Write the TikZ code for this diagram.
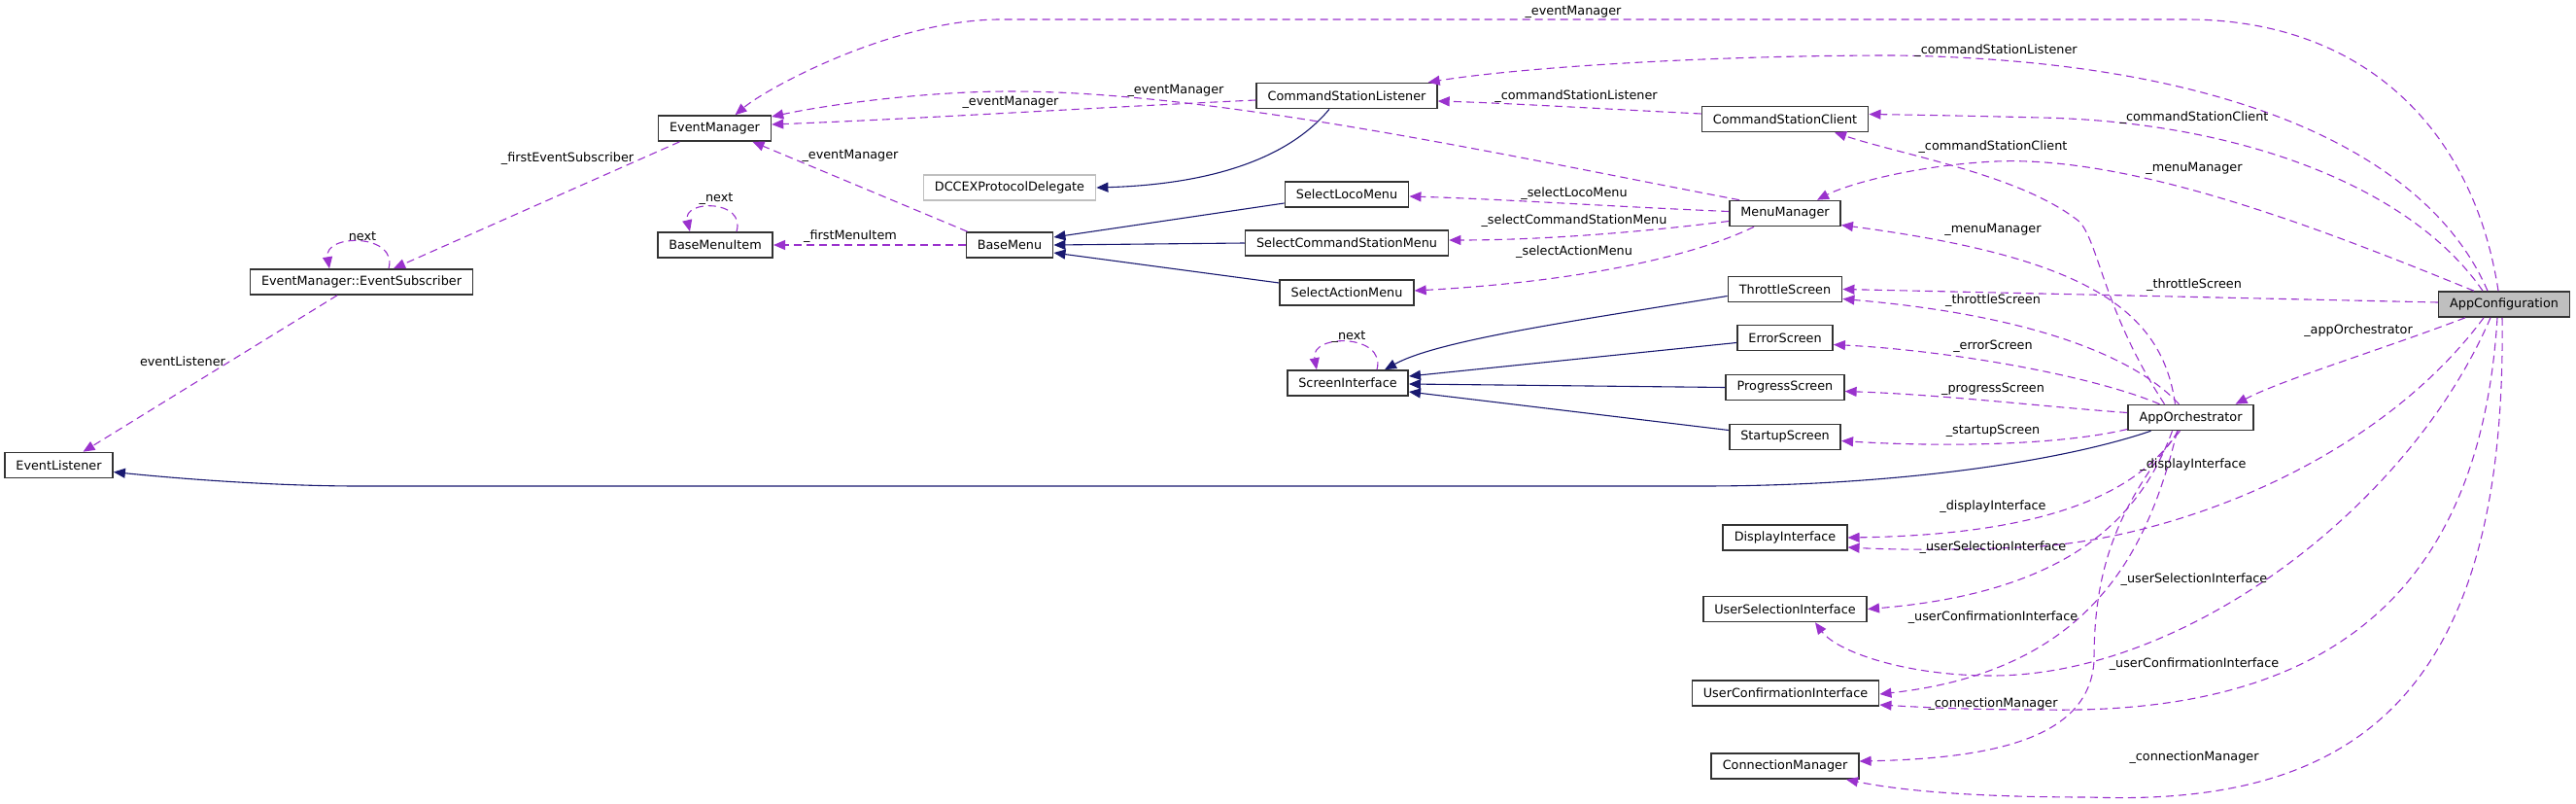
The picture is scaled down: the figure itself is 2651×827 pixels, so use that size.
\documentclass[tikz,border=0pt]{standalone}
\usepackage{fontspec}
\setmainfont{DejaVu Sans}
\usetikzlibrary{arrows.meta}
\definecolor{usecol}{HTML}{9A32CD}
\definecolor{inhcol}{HTML}{191970}
\tikzset{
  % Class boxes
  cls/.style={rectangle, draw=black!80, line width=1.6pt, fill=white, minimum height=26pt, inner xsep=11.5pt, inner ysep=0pt, font=\fontsize{12.8}{15}\selectfont},
  clsext/.style={cls, draw=black!25},
  clsmain/.style={cls, fill=black!25},
  % Connectors
  uses/.style={draw=usecol, line width=1.1pt, dash pattern=on 8pt off 5pt, -{Triangle[length=12pt, width=10pt]}},
  inherits/.style={draw=inhcol, line width=1.1pt, -{Triangle[length=12pt, width=10pt]}},
  lbl/.style={font=\fontsize{12.8}{15}\selectfont, inner sep=0pt},
}

\begin{document}
\begin{tikzpicture}[x=1pt, y=-1pt]
    \useasboundingbox (0,0) rectangle (2651,827);
    % Classes
    \node[cls] (evlis) at (60.5,478.5) {EventListener};
    \node[cls] (evsub) at (372,290) {EventManager::EventSubscriber};
    \node[cls] (evmgr) at (735.5,132) {EventManager};
    \node[cls] (menuitem) at (736,252) {BaseMenuItem};
    \node[clsext] (dccex) at (1039,193) {DCCEXProtocolDelegate};
    \node[cls] (basemenu) at (1039,252) {BaseMenu};
    \node[cls] (cslis) at (1386,98.5) {CommandStationListener};
    \node[cls] (loco) at (1386,200) {SelectLocoMenu};
    \node[cls] (csmenu) at (1386,250) {SelectCommandStationMenu};
    \node[cls] (actmenu) at (1386,301) {SelectActionMenu};
    \node[cls] (scrif) at (1387,394) {ScreenInterface};
    \node[cls] (csclient) at (1837,122.5) {CommandStationClient};
    \node[cls] (menumgr) at (1837,219.5) {MenuManager};
    \node[cls] (throttle) at (1837,297.5) {ThrottleScreen};
    \node[cls] (errscr) at (1837,347.5) {ErrorScreen};
    \node[cls] (progscr) at (1837,398.5) {ProgressScreen};
    \node[cls] (startscr) at (1837,449.5) {StartupScreen};
    \node[cls] (dispif) at (1837,553) {DisplayInterface};
    \node[cls] (selif) at (1837,626.5) {UserSelectionInterface};
    \node[cls] (confif) at (1837.5,713) {UserConfirmationInterface};
    \node[cls] (connmgr) at (1837,788) {ConnectionManager};
    \node[cls] (orch) at (2254.5,429.5) {AppOrchestrator};
    \node[clsmain] (app) at (2577,313) {AppConfiguration};
    % Inheritance
    \draw[inherits] ([xshift=-18pt]cslis.south) .. controls (1320,170) and (1230,190) .. (dccex.east);
    \draw[inherits] ([yshift=-9pt]loco.west) -- ([yshift=8pt]basemenu.east);
    \draw[inherits] (csmenu.west) -- (basemenu.east);
    \draw[inherits] ([yshift=10pt]actmenu.west) -- ([yshift=-8pt]basemenu.east);
    \draw[inherits] ([yshift=-7pt]throttle.west) .. controls (1620,330) and (1480,350) .. ([xshift=38pt]scrif.north);
    \draw[inherits] ([yshift=-5pt]errscr.west) -- ([yshift=7pt]scrif.east);
    \draw[inherits] (progscr.west) -- ([yshift=-1pt]scrif.east);
    \draw[inherits] ([yshift=7pt]startscr.west) -- ([yshift=-9pt]scrif.east);
    \draw[inherits] ([xshift=-41pt]orch.south) .. controls (2120,475) and (1950,500) .. (1750,500) -- (370,500) .. controls (280,500) and (180,492) .. ([yshift=-7pt]evlis.east);
    % Members of the left part
    \draw[uses] ([xshift=-36pt]evmgr.south) -- ([xshift=33pt]evsub.north);
    \draw[uses] ([xshift=28pt]evsub.north) .. controls (410,240) and (333,240) .. ([xshift=-33pt]evsub.north);
    \draw[uses] ([xshift=-25pt]evsub.south) -- ([xshift=25pt]evlis.north);
    \draw[uses] ([xshift=22pt]menuitem.north) .. controls (768,205) and (702,205) .. ([xshift=-26pt]menuitem.north);
    \draw[uses] (basemenu.west) -- (menuitem.east);
    \draw[uses] ([xshift=2pt]basemenu.north west) -- ([xshift=39pt]evmgr.south);
    \draw[uses] ([yshift=-4.5pt]cslis.west) .. controls (1100,112) and (950,122) .. ([yshift=4pt]evmgr.east);
    \draw[uses] ([xshift=11pt]menumgr.north west) .. controls (1550,160) and (1250,94) .. (1040,94) .. controls (950,94) and (850,108) .. ([yshift=12pt]evmgr.east);
    \draw[uses] ([xshift=30pt]scrif.north) .. controls (1427,343) and (1348,343) .. ([xshift=-32pt]scrif.north);
    \draw[uses] ([yshift=5.5pt]csclient.west) .. controls (1650,112) and (1550,106) .. ([yshift=-5.5pt]cslis.east);
    \draw[uses] ([yshift=2pt]menumgr.west) .. controls (1650,212) and (1550,205) .. ([yshift=-2pt]loco.east);
    \draw[uses] ([yshift=-8pt]menumgr.west) .. controls (1680,240) and (1580,247) .. ([yshift=3pt]csmenu.east);
    \draw[uses] ([xshift=-32pt]menumgr.south) .. controls (1740,265) and (1620,290) .. ([yshift=2pt]actmenu.east);
    % Members of AppConfiguration
    \draw[uses] ([xshift=-6pt]app.north) .. controls (2545,130) and (2430,20) .. (2250,20) -- (1030,20) .. controls (920,20) and (790,90) .. ([xshift=21pt]evmgr.north);
    \draw[uses] ([xshift=-17pt]app.north) .. controls (2500,160) and (2300,62) .. (1950,57) .. controls (1750,57) and (1560,70) .. ([xshift=-10pt]cslis.north east);
    \draw[uses] ([xshift=-22pt]app.north) .. controls (2480,190) and (2300,125) .. (2100,121) .. controls (2020,119) and (1960,118) .. ([yshift=5pt]csclient.east);
    \draw[uses] ([xshift=-31pt]app.north) .. controls (2400,240) and (2200,160) .. (2054,166) .. controls (1970,170) and (1900,190) .. ([xshift=33pt]menumgr.north);
    \draw[uses] ([yshift=2pt]app.west) -- (throttle.east);
    \draw[uses] ([xshift=-40pt]app.south) .. controls (2450,360) and (2350,390) .. ([xshift=46pt]orch.north);
    \draw[uses] ([xshift=-21pt]app.south) .. controls (2450,470) and (2250,550) .. (2100,562) .. controls (2000,567) and (1940,565) .. ([yshift=-10pt]dispif.east);
    \draw[uses] ([xshift=-14pt]app.south) .. controls (2480,520) and (2250,695) .. (2050,695) .. controls (1960,695) and (1890,670) .. ([xshift=31pt]selif.south);
    \draw[uses] ([xshift=-7pt]app.south) .. controls (2550,650) and (2350,735) .. (2100,730) .. controls (2020,730) and (1970,727) .. ([yshift=-12pt]confif.east);
    \draw[uses] ([xshift=-2pt]app.south) .. controls (2580,720) and (2420,830) .. (2150,820) .. controls (2020,820) and (1950,812) .. ([xshift=63pt]connmgr.south);
    % Members of AppOrchestrator
    \draw[uses] ([xshift=-27pt]orch.north) .. controls (2165,320) and (2160,250) .. (2140,228) .. controls (2080,180) and (1960,160) .. ([xshift=51pt]csclient.south);
    \draw[uses] ([xshift=-16pt]orch.north) .. controls (2225,320) and (2150,265) .. ([yshift=-12pt]menumgr.east);
    \draw[uses] ([xshift=-12pt]orch.north) .. controls (2200,370) and (2100,325) .. ([yshift=-10pt]throttle.east);
    \draw[uses] ([xshift=-32pt]orch.north) .. controls (2150,385) and (2000,360) .. ([yshift=-7pt]errscr.east);
    \draw[uses] ([yshift=5pt]orch.west) .. controls (2100,418) and (2000,406) .. ([yshift=-4pt]progscr.east);
    \draw[uses] ([yshift=-12pt]orch.west) .. controls (2120,458) and (2000,460) .. ([yshift=-4pt]startscr.east);
    \draw[uses] ([xshift=-13pt]orch.south) .. controls (2200,510) and (2100,550) .. (dispif.east);
    \draw[uses] ([xshift=-19pt]orch.south) .. controls (2200,540) and (2120,610) .. (selif.east);
    \draw[uses] ([xshift=-14pt]orch.south) .. controls (2210,570) and (2150,690) .. ([yshift=-1pt]confif.east);
    \draw[uses] ([xshift=-11pt]orch.south) .. controls (2170,530) and (2155,600) .. (2155,680) .. controls (2150,760) and (2050,780) .. ([yshift=5pt]connmgr.east);
    % Member names
    \foreach \x/\y/\t [count=\i] in {1619/12/\_eventManager, 1210/93/\_eventManager, 1040/105/\_eventManager,
        875/160/\_eventManager, 584/163/\_firstEventSubscriber, 373/243/next, 737/205/\_next,
        875/243/\_firstMenuItem, 188/372/eventListener, 1388/347/\_next,
        1622/99/\_commandStationListener, 2054/52/\_commandStationListener,
        2258/121/\_commandStationClient, 2051/151/\_commandStationClient,
        2258/173/\_menuManager, 2051/236/\_menuManager,
        1620/199/\_selectLocoMenu, 1620/227/\_selectCommandStationMenu, 1620/259/\_selectActionMenu,
        2258/293/\_throttleScreen, 2051/309/\_throttleScreen, 2427/340/\_appOrchestrator,
        2051/356/\_errorScreen, 2051/400/\_progressScreen, 2051/443/\_startupScreen,
        2257/478/\_displayInterface, 2051/521/\_displayInterface,
        2051/563/\_userSelectionInterface, 2258/596/\_userSelectionInterface,
        2051/635/\_userConfirmationInterface, 2258/683/\_userConfirmationInterface,
        2051/724/\_connectionManager, 2258/779/\_connectionManager} {
      \node[lbl] (lbl\i) at (\x,\y) {\t};
    }
\end{tikzpicture}
\end{document}
